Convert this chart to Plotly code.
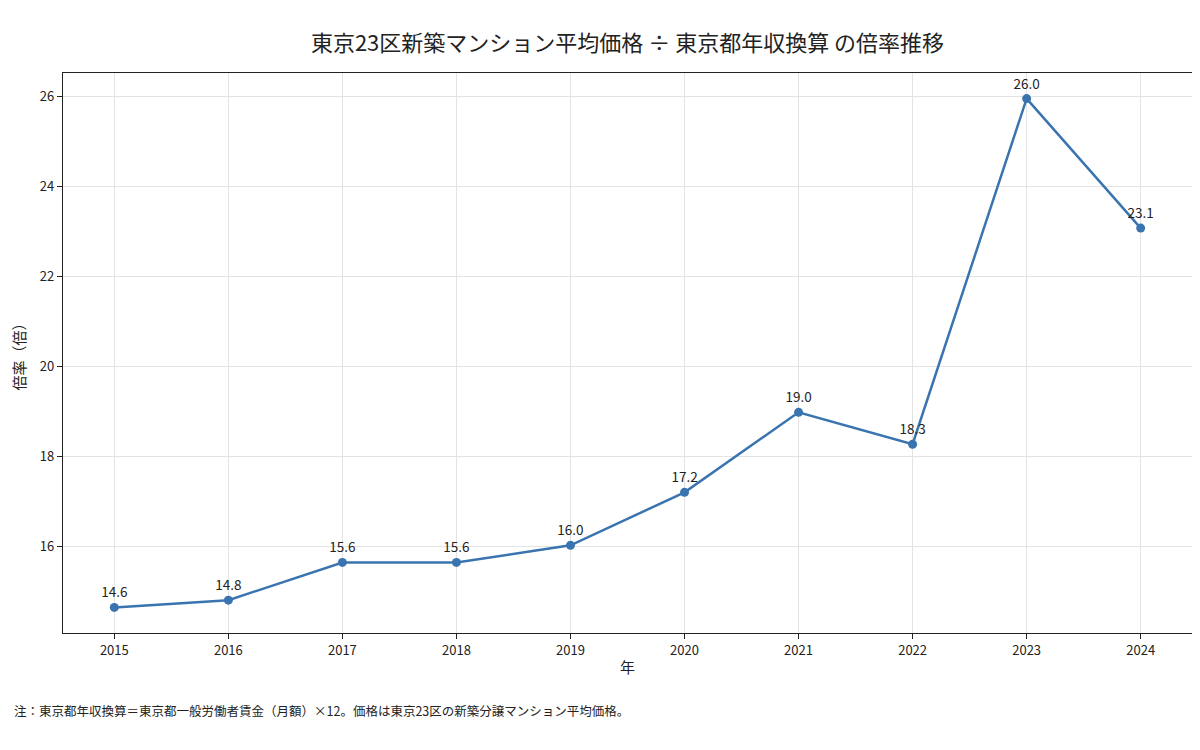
import plotly.graph_objects as go

years = [2015, 2016, 2017, 2018, 2019, 2020, 2021, 2022, 2023, 2024]
ratios = [14.64, 14.80, 15.64, 15.64, 16.02, 17.20, 18.98, 18.27, 25.96, 23.08]
labels = ["14.6", "14.8", "15.6", "15.6", "16.0", "17.2", "19.0", "18.3", "26.0", "23.1"]
y_ticks = [16, 18, 20, 22, 24, 26]

title = "東京23区新築マンション平均価格 ÷ 東京都年収換算 の倍率推移"
note = "注：東京都年収換算＝東京都一般労働者賃金（月額）×12。価格は東京23区の新築分譲マンション平均価格。"

FONT = "Noto Sans CJK JP"
color = "#3a74b0"

fig = go.Figure()
fig.add_trace(go.Scatter(
    x=years, y=ratios, mode="lines+markers+text",
    text=labels, textposition="top center",
    textfont=dict(family=FONT, size=13.5, color="#222"),
    line=dict(color=color, width=2.5),
    marker=dict(color=color, size=9),
    cliponaxis=False, showlegend=False,
))

axis_common = dict(
    showline=True, linecolor="#222", linewidth=1.2, mirror=True,
    ticks="outside", ticklen=5, tickcolor="#222", tickwidth=1,
    showgrid=True, gridcolor="#e3e3e3", gridwidth=1, zeroline=False,
    tickfont=dict(family=FONT, size=13, color="#222"),
    automargin=False,
)

fig.update_layout(
    width=1200, height=750,
    paper_bgcolor="white", plot_bgcolor="white",
    margin=dict(l=55, r=16, t=65, b=125),
    title=dict(text=title, xref="paper", x=0.5, xanchor="center", y=0.953, yanchor="middle",
               font=dict(family=FONT, size=22, color="#222")),
    xaxis=dict(range=[2014.55, 2024.45], tickmode="array", tickvals=years,
               ticktext=[str(y) for y in years],
               title=dict(text="年", font=dict(family=FONT, size=15, color="#222"), standoff=4),
               **axis_common),
    yaxis=dict(range=[14.07, 26.53], tickmode="array", tickvals=y_ticks,
               ticktext=[str(v) for v in y_ticks],
               title=dict(text="倍率（倍）", font=dict(family=FONT, size=15, color="#222"), standoff=18),
               **axis_common),
    annotations=[dict(text=note, xref="paper", yref="paper", x=-0.0452, y=-0.139,
                      xanchor="left", yanchor="middle", showarrow=False,
                      font=dict(family=FONT, size=12.5, color="#222"))],
)

fig.write_html("out.html")
